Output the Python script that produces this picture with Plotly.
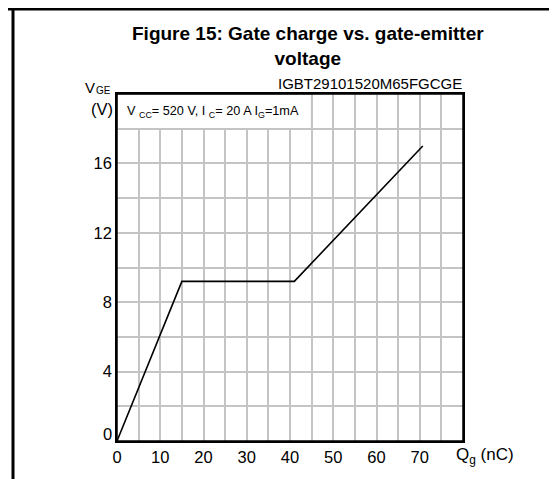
import plotly.graph_objects as go

# Data
qg_nc = [0, 15, 41, 70.7]
vge_v = [0, 9.2, 9.2, 17.0]

x_tickvals = [0, 10, 20, 30, 40, 50, 60, 70]
y_tickvals = [0, 4, 8, 12, 16]
y_ticktext = ["", "4", "8", "12", "16"]

FONT = "Liberation Sans, Arial, sans-serif"
GRID = "#c4c4c4"

fig = go.Figure()
fig.add_trace(go.Scatter(x=qg_nc, y=vge_v, mode="lines",
                         line=dict(color="black", width=1.6),
                         hoverinfo="skip", showlegend=False))

L, R, T, B = 109, 102, 86, 46
W, H = 557, 479
pw, ph = W - L - R, H - T - B

def px_x(px):
    return (px - L) / pw

def px_y(py):
    return (H - B - py) / ph

fig.update_layout(
    width=W, height=H,
    margin=dict(l=L, r=R, t=T, b=B, pad=0),
    paper_bgcolor="white", plot_bgcolor="white",
    font=dict(family=FONT, size=16, color="black"),
    showlegend=False,
    xaxis=dict(range=[0, 80], tickvals=x_tickvals, ticktext=[str(v) for v in x_tickvals],
               showgrid=True, gridcolor=GRID, gridwidth=1.5,
               minor=dict(dtick=5, tick0=0, showgrid=True, gridcolor=GRID, gridwidth=1.5),
               showline=True, linecolor="black", linewidth=1.5, mirror=True,
               ticks="", zeroline=False, tickfont=dict(size=16.5)),
    yaxis=dict(range=[0, 20], tickvals=y_tickvals, ticktext=y_ticktext,
               showgrid=True, gridcolor=GRID, gridwidth=1.5,
               minor=dict(dtick=2, tick0=0, showgrid=True, gridcolor=GRID, gridwidth=1.5),
               showline=True, linecolor="black", linewidth=1.5, mirror=True,
               ticks="", zeroline=False, tickfont=dict(size=16.5)),
)

# white condition box in the top row
fig.add_shape(type="rect", xref="x", yref="y", x0=0, x1=45, y0=18, y1=20,
              fillcolor="white", line=dict(color=GRID, width=1.5), layer="above")
# redraw plot frame on top
fig.add_shape(type="rect", xref="paper", yref="paper", x0=0, x1=1, y0=0, y1=1,
              line=dict(color="black", width=1.5), layer="above")

# page borders (left and top)
fig.add_shape(type="line", xref="paper", yref="paper", x0=px_x(5), x1=px_x(5),
              y0=px_y(0), y1=px_y(H), line=dict(color="black", width=3))
fig.add_shape(type="line", xref="paper", yref="paper", x0=px_x(0), x1=px_x(W),
              y0=px_y(1), y1=px_y(1), line=dict(color="black", width=3))

# title
fig.add_annotation(xref="paper", yref="paper", x=px_x(300), y=px_y(13),
                   text="<b>Figure 15: Gate charge vs. gate-emitter<br>voltage</b>",
                   showarrow=False, xanchor="center", yanchor="top",
                   font=dict(size=19, family=FONT), align="center")

# y axis label: V with subscript GE, then (V)
fig.add_annotation(xref="paper", yref="paper", x=px_x(88), y=px_y(79.5),
                   text="V", showarrow=False, xanchor="right", yanchor="middle",
                   font=dict(size=15, family=FONT), borderpad=0)
fig.add_annotation(xref="paper", yref="paper", x=px_x(87), y=px_y(82.5),
                   text="GE", showarrow=False, xanchor="left", yanchor="middle",
                   font=dict(size=10, family=FONT), borderpad=0)
fig.add_annotation(xref="paper", yref="paper", x=px_x(106), y=px_y(101),
                   text="(V)", showarrow=False, xanchor="right", yanchor="middle",
                   font=dict(size=16.5, family=FONT), borderpad=0)

# raised zero label of the y axis
fig.add_annotation(xref="paper", yref="paper", x=px_x(106), y=px_y(426),
                   text=str(y_tickvals[0]), showarrow=False, xanchor="right", yanchor="middle",
                   font=dict(size=16.5, family=FONT))

# x axis label
fig.add_annotation(xref="paper", yref="paper", x=px_x(446), y=px_y(435),
                   text="Q<sub>g</sub> (nC)", showarrow=False, xanchor="left", yanchor="top",
                   font=dict(size=17, family=FONT))

# code label
fig.add_annotation(xref="paper", yref="paper", x=px_x(456), y=px_y(86),
                   text="IGBT29101520M65FGCGE", showarrow=False, xanchor="right", yanchor="bottom",
                   font=dict(size=15, family=FONT))

# conditions text
fig.add_annotation(xref="paper", yref="paper", x=px_x(117), y=px_y(104),
                   text="V <sub>CC</sub>= 520 V, I <sub>C</sub>= 20 A I<sub>G</sub>=1mA",
                   showarrow=False, xanchor="left", yanchor="middle",
                   font=dict(size=12.7, family=FONT))

fig.write_html("out.html")
